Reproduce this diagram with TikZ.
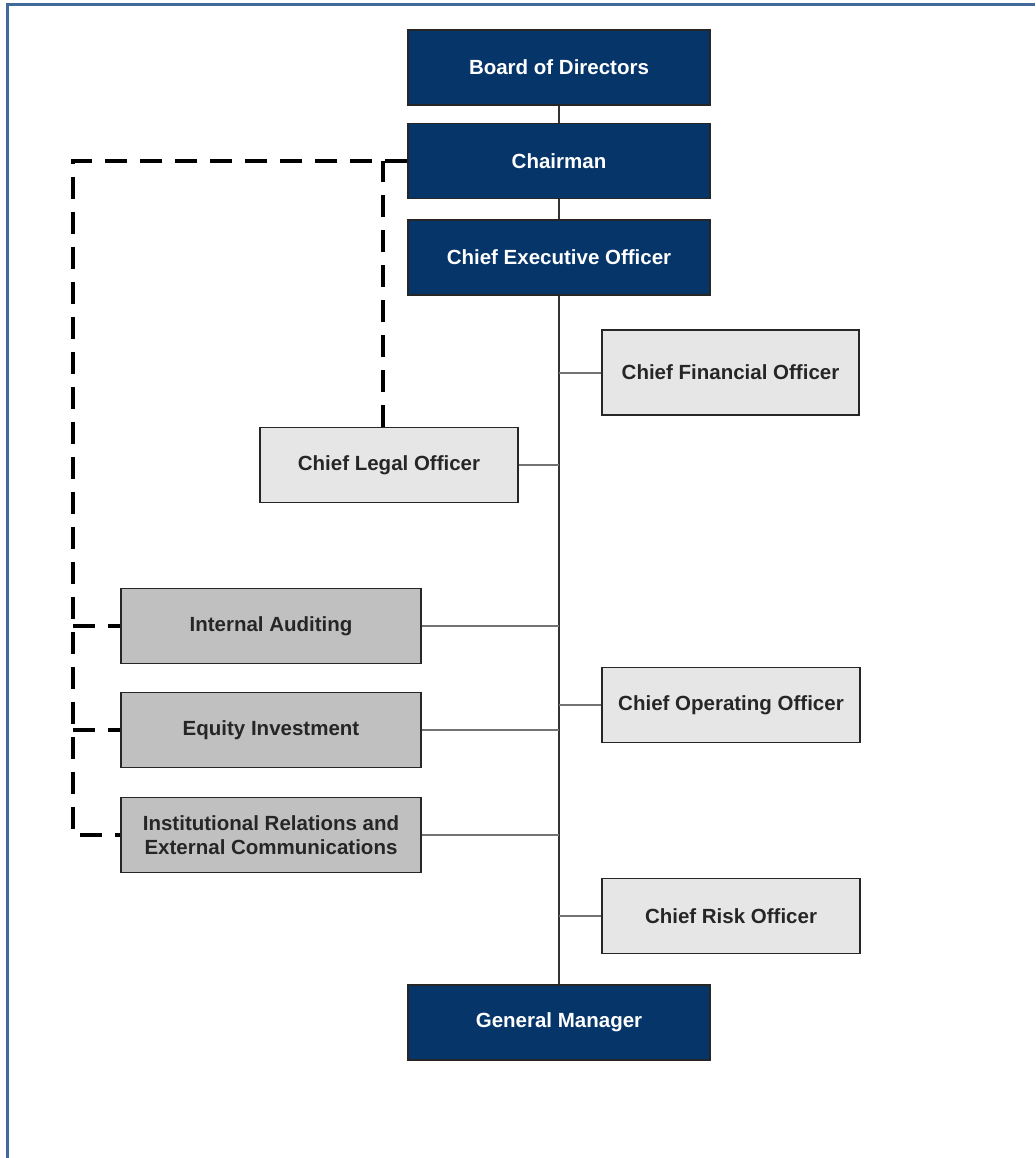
\documentclass[tikz,border=0pt]{standalone}
\usepackage{fontspec}
\setmainfont{Liberation Sans}
\usetikzlibrary{positioning}

\definecolor{navy}{HTML}{06356A}
\definecolor{paleg}{HTML}{E6E6E6}
\definecolor{midg}{HTML}{C0C0C0}
\definecolor{frameblue}{HTML}{41699A}

\begin{document}
\begin{tikzpicture}[x=1pt,y=-1pt,
  exec/.style={draw=black!85,line width=1.5pt,fill=navy,text=white,
    font=\bfseries\fontsize{20.5}{24.5}\selectfont,minimum width=302pt,minimum height=75pt},
  officer/.style={draw=black!85,line width=1.5pt,fill=paleg,text=black!85,
    font=\bfseries\fontsize{20.5}{24.5}\selectfont,minimum width=258pt,minimum height=75pt},
  unit/.style={draw=black!85,line width=1.5pt,fill=midg,text=black!85,align=center,
    font=\bfseries\fontsize{20.5}{24.5}\selectfont,minimum width=300pt,minimum height=75pt},
  trunk/.style={line width=2pt,draw=black!80},
  branch/.style={line width=2pt,draw=black!55},
  report/.style={line width=4pt,dash pattern=on 22pt off 13pt}]
 \useasboundingbox (0,0) rectangle (1035,1158);
 \fill[white] (0,0) rectangle (1035,1158);
 \draw[frameblue,line width=3pt] (7,1158) -- (7,5) -- (1035,5);

 % top of the chart
 \node[exec] (board) at (559,67.5) {Board of Directors};
 \node[exec] (chair) at (559,161) {Chairman};
 \node[exec] (ceo) at (559,257.5) {Chief Executive Officer};
 \node[exec] (gm) at (559,1022.5) {General Manager};

 % officers and units
 \node[officer,minimum width=257pt,minimum height=85pt] (cfo) at (730.5,372.5) {Chief Financial Officer};
 \node[officer] (clo) at (389,465) {Chief Legal Officer};
 \node[officer] (coo) at (731,705) {Chief Operating Officer};
 \node[officer] (cro) at (731,916) {Chief Risk Officer};
 \node[unit] (audit) at (271,626) {Internal Auditing};
 \node[unit] (equity) at (271,730) {Equity Investment};
 \node[unit] (irc) at (271,835) {Institutional Relations and\\External Communications};

 \draw[trunk] (board) -- (chair);
 \draw[trunk] (chair) -- (ceo);
 \draw[trunk] (ceo.south) -- (gm.north);
 \foreach \n in {cfo,coo,cro}
   \draw[branch] (\n.west) -- (\n.west -| ceo.south);
 \foreach \n in {clo,audit,equity,irc}
   \draw[branch] (\n.east) -- (\n.east -| ceo.south);

 % dashed reporting lines
 \coordinate (lane) at (73,0);
 \draw[report] (chair.west) -| (irc.west -| lane) -- (irc.west);
 \draw[report] (audit.west -| lane) -- (audit.west);
 \draw[report] (equity.west -| lane) -- (equity.west);
 \draw[report] ([xshift=-6pt]clo.north) -- ([xshift=-6pt]clo.north |- chair.west);
\end{tikzpicture}
\end{document}
